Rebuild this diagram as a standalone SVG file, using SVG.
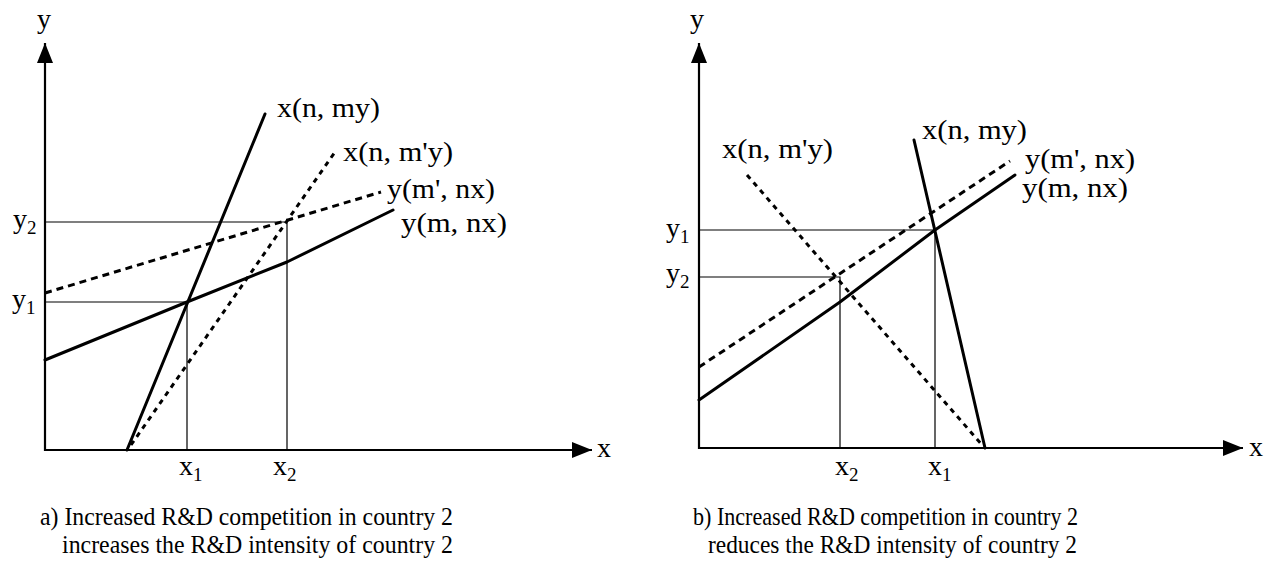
<svg xmlns="http://www.w3.org/2000/svg" width="1265" height="565" viewBox="0 0 1265 565">
<style>
text{font-family:"Liberation Serif","DejaVu Serif",serif;fill:#000}
.lbl{font-size:28px}
.cap{font-size:25.5px}
.sub{font-size:19px}
.axis{stroke:#000;stroke-width:2.2;fill:none}
.guide{stroke:#000;stroke-width:1.2;fill:none}
.solid{stroke:#000;stroke-width:3;fill:none;stroke-linejoin:round;stroke-linecap:round}
.dash1{stroke:#000;stroke-width:3;fill:none;stroke-dasharray:7 5}
.dash2{stroke:#000;stroke-width:3;fill:none;stroke-dasharray:5 5}
</style>
<defs>
<marker id="arr" markerUnits="userSpaceOnUse" markerWidth="21" markerHeight="16" refX="20" refY="8" orient="auto">
<path d="M0,0 L20,8 L0,16 z" fill="#000"/>
</marker>
</defs>
<rect width="1265" height="565" fill="#fff"/>

<g id="connectors">
<!-- left panel -->
<line class="axis" x1="45" y1="451" x2="45" y2="43" marker-end="url(#arr)"/>
<line class="axis" x1="44" y1="450" x2="592" y2="450" marker-end="url(#arr)"/>
<polyline class="guide" points="45,222 287,222 287,450"/>
<polyline class="guide" points="45,302 187,302 187,450"/>
<line class="solid" x1="127" y1="450" x2="265" y2="114"/>
<polyline class="solid" points="45,360 187,302 287,262 393,210"/>
<line class="dash2" x1="131" y1="445" x2="335" y2="152"/>
<line class="dash1" x1="45" y1="293" x2="381" y2="192"/>
<!-- right panel -->
<line class="axis" x1="699" y1="449" x2="699" y2="43" marker-end="url(#arr)"/>
<line class="axis" x1="698" y1="448" x2="1243" y2="448" marker-end="url(#arr)"/>
<polyline class="guide" points="699,230 935,230 935,448"/>
<polyline class="guide" points="699,277 840,277 840,448"/>
<line class="solid" x1="914" y1="140" x2="985" y2="448"/>
<polyline class="solid" points="699,400 840,302 935,230 1015,175"/>
<line class="dash2" x1="747" y1="175" x2="983" y2="446"/>
<line class="dash1" x1="699" y1="367" x2="1010" y2="161"/>
</g>

<g id="panel-a-labels">
<text class="lbl" x="37" y="28">y</text>
<text class="lbl" x="597" y="457">x</text>
<text class="lbl" x="13" y="228">y<tspan class="sub" dy="6">2</tspan></text>
<text class="lbl" x="12" y="308">y<tspan class="sub" dy="6">1</tspan></text>
<text class="lbl" x="179" y="475">x<tspan class="sub" dy="6">1</tspan></text>
<text class="lbl" x="273" y="475">x<tspan class="sub" dy="6">2</tspan></text>
<text class="lbl" x="277" y="117" textLength="103" lengthAdjust="spacingAndGlyphs">x(n, my)</text>
<text class="lbl" x="343" y="161" textLength="110" lengthAdjust="spacingAndGlyphs">x(n, m'y)</text>
<text class="lbl" x="387" y="198" textLength="108" lengthAdjust="spacingAndGlyphs">y(m', nx)</text>
<text class="lbl" x="401" y="232" textLength="106" lengthAdjust="spacingAndGlyphs">y(m, nx)</text>
<text class="cap" x="40" y="525" textLength="413" lengthAdjust="spacingAndGlyphs">a) Increased R&amp;D competition in country 2</text>
<text class="cap" x="62" y="553" textLength="391" lengthAdjust="spacingAndGlyphs">increases the R&amp;D intensity of country 2</text>
</g>

<g id="panel-b-labels">
<text class="lbl" x="690" y="28">y</text>
<text class="lbl" x="1249" y="456">x</text>
<text class="lbl" x="666" y="237">y<tspan class="sub" dy="6">1</tspan></text>
<text class="lbl" x="666" y="282">y<tspan class="sub" dy="6">2</tspan></text>
<text class="lbl" x="835" y="475">x<tspan class="sub" dy="6">2</tspan></text>
<text class="lbl" x="928" y="475">x<tspan class="sub" dy="6">1</tspan></text>
<text class="lbl" x="922" y="139" textLength="105" lengthAdjust="spacingAndGlyphs">x(n, my)</text>
<text class="lbl" x="722" y="158" textLength="111" lengthAdjust="spacingAndGlyphs">x(n, m'y)</text>
<text class="lbl" x="1025" y="168" textLength="110" lengthAdjust="spacingAndGlyphs">y(m', nx)</text>
<text class="lbl" x="1022" y="197" textLength="106" lengthAdjust="spacingAndGlyphs">y(m, nx)</text>
<text class="cap" x="693" y="525" textLength="385" lengthAdjust="spacingAndGlyphs">b) Increased R&amp;D competition in country 2</text>
<text class="cap" x="708" y="553" textLength="369" lengthAdjust="spacingAndGlyphs">reduces the R&amp;D intensity of country 2</text>
</g>
</svg>
